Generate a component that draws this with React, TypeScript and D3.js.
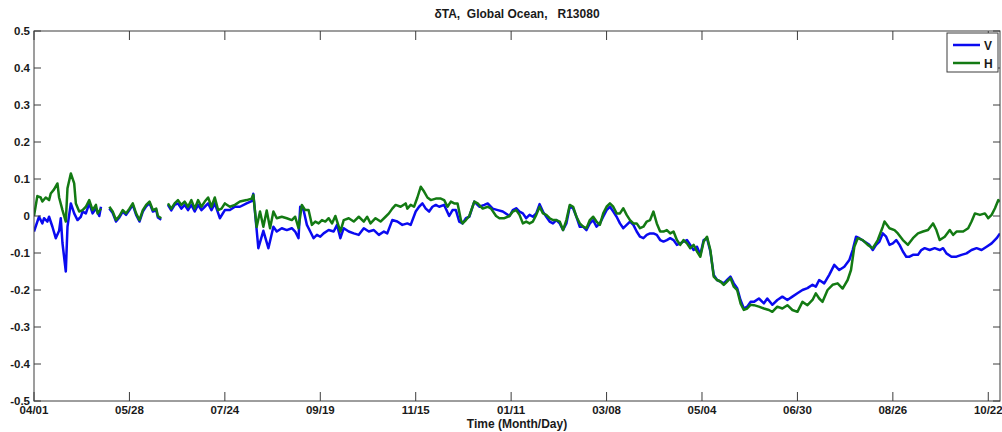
import React from "react";
import * as d3 from "d3";

const TITLE = "\u03B4TA,  Global Ocean,   R13080";
const X_LABEL = "Time (Month/Day)";

const xTickDays = [0, 57, 114, 171, 228, 285, 342, 399, 456, 513, 570];
const xTickLabels = ["04/01", "05/28", "07/24", "09/19", "11/15", "01/11", "03/08", "05/04", "06/30", "08/26", "10/22"];
const yTicks = [-0.5, -0.4, -0.3, -0.2, -0.1, 0, 0.1, 0.2, 0.3, 0.4, 0.5];
const yTickLabels = ["-0.5", "-0.4", "-0.3", "-0.2", "-0.1", "0", "0.1", "0.2", "0.3", "0.4", "0.5"];

// V series (blue) — days since 04/01, null = missing data
const vDays = [
  0, 2, 3, 5, 6, 8, 9, 11, 13, 15, 16, 17, 19, 20, 22, 24, 26, 28, 29, 31, 33, 35, 37, 39, 40,
  42,
  45, 47, 49, 51, 53, 55, 57, 59, 61, 63, 65, 67, 69, 71, 73, 74, 76,
  78,
  80, 82, 84, 86, 88, 90, 92, 94, 96, 98, 100, 102, 104, 106, 108, 111, 114, 117, 120, 123, 127, 130, 131,
  134, 137, 140, 143, 145, 148, 151, 154, 156, 158, 159, 161, 163, 165, 167, 169, 171, 173, 176, 179, 181,
  183, 185, 188, 191, 194, 197, 200, 203, 206, 209, 211, 214, 217, 220, 223, 225, 228, 230, 232, 234, 236,
  238, 240, 242, 245, 248, 250, 252, 254, 256, 258, 260, 263, 266, 269, 271, 274, 277, 280, 284, 286, 288,
  290, 292, 294, 296, 298, 300, 302, 304, 306, 308, 310, 312, 314, 316, 318, 320, 322, 324, 326, 328, 330,
  332, 334, 336, 338, 340, 342, 344, 346, 348, 350, 352, 354, 356, 358, 360, 362, 364, 366, 368, 370, 372,
  374, 376, 378, 380, 382, 384, 386, 388, 390, 392, 394, 396, 398, 400, 402, 404, 406, 408, 410, 412, 414,
  416, 418, 420, 422, 424, 426, 428, 430, 433, 436, 438, 441, 444, 447, 450, 453, 456, 459, 462, 465, 467,
  469, 472, 475, 478, 481, 484, 487, 489, 491, 493, 496, 499, 501, 503, 505, 507, 509, 511, 513, 515, 517,
  519, 521, 523, 525, 528, 530, 532, 535, 538, 541, 543, 545, 548, 551, 554, 557, 560, 563, 566, 569, 572,
  575, 577,
];
const vValues = [
  -0.042, -0.015, -0.002, -0.02, -0.006, -0.015, -0.002, -0.029, -0.06, -0.04, -0.006, -0.073, -0.15, -0.029, 0.034, 0.007, -0.011, -0.002, 0.012, 0.007, 0.034, 0.007, 0.02, 0.0, 0.025,
  null,
  0.02, 0.008, -0.015, -0.004, 0.012, 0.003, 0.016, 0.03, 0.003, -0.015, 0.012, 0.026, 0.035, 0.012, 0.016, -0.004, -0.01,
  null,
  0.03, 0.015, 0.03, 0.034, 0.02, 0.03, 0.016, 0.03, 0.012, 0.03, 0.016, 0.025, 0.034, 0.016, 0.034, -0.006, 0.016, 0.016, 0.025, 0.025, 0.034, 0.04, 0.06,
  -0.087, -0.04, -0.087, -0.029, -0.042, -0.033, -0.038, -0.033, -0.042, -0.06, 0.025, 0.016, -0.024, -0.042, -0.06, -0.051, -0.056, -0.047, -0.038, -0.042, -0.024,
  -0.06, -0.033, -0.042, -0.047, -0.051, -0.033, -0.042, -0.038, -0.051, -0.042, -0.047, -0.011, -0.015, -0.024, -0.02, -0.024, 0.012, 0.025, 0.034, 0.02, 0.012,
  0.025, 0.03, 0.025, 0.03, 0.0, 0.016, 0.016, -0.015, -0.02, -0.006, -0.002, 0.039, 0.025, 0.03, 0.034, 0.02, 0.016, 0.012, 0.0, 0.016, 0.021,
  0.012, 0.007, -0.006, 0.003, -0.002, 0.007, 0.032, 0.012, -0.002, -0.015, -0.02, -0.011, -0.02, -0.038, -0.02, 0.025, 0.021, -0.002, -0.029, -0.029, -0.038,
  -0.02, -0.011, -0.029, -0.02, -0.002, 0.016, 0.025, 0.012, -0.002, -0.02, -0.033, -0.024, -0.015, -0.024, -0.042, -0.056, -0.06, -0.051, -0.047, -0.047, -0.051,
  -0.065, -0.069, -0.065, -0.06, -0.065, -0.078, -0.074, -0.069, -0.065, -0.078, -0.092, -0.083, -0.105, -0.065, -0.06, -0.096, -0.159, -0.173, -0.177, -0.182, -0.173,
  -0.164, -0.182, -0.195, -0.227, -0.25, -0.245, -0.232, -0.232, -0.223, -0.236, -0.223, -0.24, -0.227, -0.218, -0.227, -0.218, -0.209, -0.2, -0.195, -0.186, -0.191,
  -0.173, -0.182, -0.159, -0.132, -0.146, -0.137, -0.119, -0.092, -0.056, -0.06, -0.069, -0.078, -0.092, -0.078, -0.069, -0.047, -0.056, -0.078, -0.074, -0.065, -0.078,
  -0.096, -0.11, -0.11, -0.105, -0.105, -0.092, -0.087, -0.092, -0.087, -0.092, -0.087, -0.101, -0.11, -0.11, -0.105, -0.101, -0.092, -0.087, -0.092, -0.083, -0.074,
  -0.06, -0.047,
];

// H series (green)
const hDays = [
  0, 2, 4, 5, 7, 9, 10, 12, 14, 15, 17, 19, 20, 22, 24, 25, 27, 29, 31, 33, 35, 37, 38, 40,
  42,
  45, 47, 49, 51, 53, 55, 57, 59, 61, 63, 65, 67, 69, 71, 73, 74, 76,
  78,
  80, 82, 84, 86, 88, 90, 92, 94, 96, 98, 100, 102, 104, 106, 108, 110, 112, 114, 117, 120, 123, 127, 130, 131,
  133, 135, 137, 139, 141, 143, 145, 148, 151, 154, 156, 158, 160, 162, 164, 166, 168, 170, 172, 174, 176, 178,
  180, 183, 185, 188, 191, 194, 197, 199, 201, 204, 207, 210, 212, 214, 216, 219, 222, 223, 225, 227, 229, 231,
  233, 235, 237, 240, 243, 245, 247, 249, 251, 253, 255, 256, 258, 260, 263, 265, 268, 271, 273, 276, 278, 281,
  284, 286, 288, 290, 292, 294, 296, 298, 300, 302, 304, 306, 308, 310, 312, 314, 316, 318, 320, 322, 324, 326,
  328, 330, 332, 334, 336, 338, 340, 342, 344, 346, 348, 350, 352, 354, 356, 358, 360, 362, 364, 366, 368, 370,
  372, 374, 376, 378, 380, 382, 384, 386, 388, 390, 392, 394, 396, 398, 400, 402, 404, 406, 408, 410, 412, 414,
  416, 418, 420, 422, 424, 426, 428, 430, 433, 436, 439, 441, 444, 447, 450, 453, 456, 459, 462, 465, 467, 469,
  471, 474, 477, 480, 483, 486, 488, 490, 492, 495, 498, 501, 504, 507, 508, 511, 514, 516, 519, 522, 525, 528,
  531, 534, 537, 539, 541, 544, 547, 549, 551, 555, 558, 560, 562, 565, 568, 570, 572, 574, 576, 577,
];
const hValues = [
  0.0, 0.054, 0.05, 0.039, 0.05, 0.043, 0.061, 0.072, 0.088, 0.05, 0.016, -0.015, 0.075, 0.115, 0.088, 0.034, 0.012, 0.016, 0.025, 0.043, 0.016, 0.03, 0.007, 0.02,
  null,
  0.025, 0.012, -0.011, 0.0, 0.016, 0.007, 0.02, 0.034, 0.007, -0.011, 0.016, 0.03, 0.039, 0.016, 0.02, 0.0, -0.006,
  null,
  0.034, 0.02, 0.034, 0.043, 0.03, 0.039, 0.025, 0.043, 0.02, 0.043, 0.025, 0.039, 0.05, 0.025, 0.05, 0.016, 0.02, 0.034, 0.025, 0.03, 0.039, 0.043, 0.047, 0.057,
  -0.03, 0.012, -0.029, 0.015, -0.033, 0.012, -0.006, -0.002, -0.006, -0.011, -0.002, -0.033, 0.03, 0.016, 0.016, -0.024, -0.015, -0.02, -0.011, -0.015, -0.006, -0.02,
  0.0, -0.042, -0.011, -0.006, -0.015, -0.002, -0.015, -0.002, -0.02, -0.006, -0.015, -0.002, 0.007, 0.02, 0.03, 0.025, 0.034, 0.02, 0.03, 0.025, 0.05, 0.079,
  0.066, 0.05, 0.043, 0.047, 0.047, 0.043, 0.025, 0.039, 0.034, 0.034, -0.011, -0.02, -0.011, 0.0, 0.039, 0.034, 0.02, 0.025, 0.02, 0.0, -0.006, -0.006,
  0.0, 0.012, 0.016, 0.003, -0.02, -0.015, -0.02, -0.015, 0.003, 0.025, 0.007, 0.003, -0.006, -0.011, -0.011, -0.015, -0.038, -0.011, 0.03, 0.025, -0.002, -0.02,
  -0.029, -0.033, -0.011, -0.002, -0.015, -0.024, 0.007, 0.025, 0.034, 0.025, 0.007, 0.007, 0.021, 0.003, -0.011, -0.02, -0.02, -0.033, -0.029, -0.015, -0.011, 0.012,
  -0.02, -0.042, -0.042, -0.038, -0.047, -0.042, -0.065, -0.078, -0.065, -0.074, -0.087, -0.078, -0.096, -0.11, -0.069, -0.056, -0.092, -0.164, -0.173, -0.177, -0.186, -0.177,
  -0.168, -0.191, -0.2, -0.236, -0.254, -0.25, -0.24, -0.241, -0.245, -0.25, -0.254, -0.259, -0.245, -0.25, -0.241, -0.254, -0.259, -0.232, -0.241, -0.227, -0.209, -0.223,
  -0.232, -0.2, -0.186, -0.182, -0.196, -0.173, -0.146, -0.083, -0.06, -0.065, -0.078, -0.087, -0.065, -0.029, -0.015, -0.033, -0.038, -0.047, -0.065, -0.078, -0.06, -0.047,
  -0.042, -0.038, -0.02, -0.038, -0.065, -0.056, -0.038, -0.051, -0.042, -0.042, -0.033, -0.015, 0.007, 0.003, 0.007, -0.006, 0.003, 0.021, 0.043, 0.039,
];

const W = 1002;
const H = 432;
const LEFT = 34;
const RIGHT = 1000;
const TOP = 31;
const BOTTOM = 401;
const AXIS_COLOR = "#3c3c3c";
const TEXT_COLOR = "#1a1a1a";
const BLUE = "#0a0af0";
const GREEN = "#137a13";
const FONT = "'Liberation Sans', Arial, Helvetica, sans-serif";

export default function App() {
  const x = d3.scaleLinear().domain([0, 577]).range([LEFT, RIGHT]);
  const y = d3.scaleLinear().domain([-0.5, 0.5]).range([BOTTOM, TOP]);

  const vData = vDays.map((d, i) => [d, vValues[i]] as [number, number | null]);
  const hData = hDays.map((d, i) => [d, hValues[i]] as [number, number | null]);

  const line = d3
    .line<[number, number | null]>()
    .defined((d) => d[1] !== null)
    .x((d) => x(d[0]))
    .y((d) => y(d[1] as number));

  const xTickLen = 9;
  const yTickLen = 7;

  return (
    <svg
      width={W}
      height={H}
      style={{ position: "absolute", left: 0, top: 0, background: "#fff" }}
      fontFamily={FONT}
    >
      <rect x={0} y={0} width={W} height={H} fill="#fff" />
      <defs>
        <clipPath id="plotClip">
          <rect x={LEFT} y={TOP} width={RIGHT - LEFT} height={BOTTOM - TOP} />
        </clipPath>
      </defs>

      <text
        x={(LEFT + RIGHT) / 2}
        y={18}
        textAnchor="middle"
        fontSize={12}
        fontWeight="bold"
        fill={TEXT_COLOR}
        style={{ whiteSpace: "pre" }}
      >
        {TITLE}
      </text>

      <g clipPath="url(#plotClip)">
        <path d={line(vData) || ""} fill="none" stroke={BLUE} strokeWidth={2.5} strokeLinejoin="round" />
        <path d={line(hData) || ""} fill="none" stroke={GREEN} strokeWidth={2.5} strokeLinejoin="round" />
      </g>

      {/* axes box */}
      <rect x={LEFT} y={TOP} width={RIGHT - LEFT} height={BOTTOM - TOP} fill="none" stroke={AXIS_COLOR} strokeWidth={1} />

      {xTickDays.map((d, i) => (
        <g key={"xt" + i}>
          <line x1={x(d)} x2={x(d)} y1={BOTTOM} y2={BOTTOM - xTickLen} stroke={AXIS_COLOR} />
          <line x1={x(d)} x2={x(d)} y1={TOP} y2={TOP + xTickLen} stroke={AXIS_COLOR} />
          <text x={x(d)} y={BOTTOM + 13} textAnchor="middle" fontSize={11.5} fontWeight="bold" fill={TEXT_COLOR}>
            {xTickLabels[i]}
          </text>
        </g>
      ))}

      {yTicks.map((v, i) => (
        <g key={"yt" + i}>
          <line x1={LEFT} x2={LEFT + yTickLen} y1={y(v)} y2={y(v)} stroke={AXIS_COLOR} />
          <line x1={RIGHT} x2={RIGHT - yTickLen} y1={y(v)} y2={y(v)} stroke={AXIS_COLOR} />
          <text x={LEFT - 4} y={y(v) + 4} textAnchor="end" fontSize={11.5} fontWeight="bold" fill={TEXT_COLOR}>
            {yTickLabels[i]}
          </text>
        </g>
      ))}

      <text x={(LEFT + RIGHT) / 2} y={428} textAnchor="middle" fontSize={12} fontWeight="bold" fill={TEXT_COLOR}>
        {X_LABEL}
      </text>

      {/* legend */}
      <g>
        <rect x={947} y={33} width={51} height={39} fill="#fff" stroke={AXIS_COLOR} strokeWidth={1} />
        <line x1={953} x2={980} y1={45} y2={45} stroke={BLUE} strokeWidth={2.5} />
        <text x={984} y={49.5} fontSize={12} fontWeight="bold" fill={TEXT_COLOR}>V</text>
        <line x1={953} x2={980} y1={63} y2={63} stroke={GREEN} strokeWidth={2.5} />
        <text x={984} y={67.5} fontSize={12} fontWeight="bold" fill={TEXT_COLOR}>H</text>
      </g>
    </svg>
  );
}
